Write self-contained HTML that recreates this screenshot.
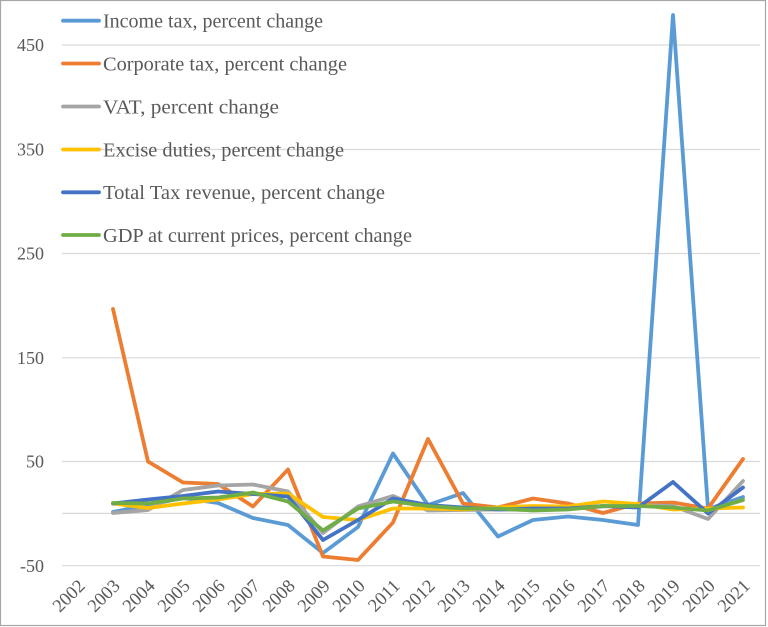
<!DOCTYPE html>
<html><head><meta charset="utf-8"><style>
html,body{margin:0;padding:0;background:#fff;}
svg{display:block;}
text{font-family:"Liberation Serif","Times New Roman",serif;fill:#595959;}
</style></head><body>
<svg width="768" height="627" viewBox="0 0 768 627" xmlns="http://www.w3.org/2000/svg">
<rect x="0" y="0" width="768" height="627" fill="#fff"/>
<rect x="0.5" y="0.5" width="765" height="625" fill="none" stroke="#A6A6A6" stroke-width="1.2"/>
<g stroke="#D9D9D9" stroke-width="1.2">
<line x1="62" y1="45" x2="760" y2="45"/>
<line x1="62" y1="149.5" x2="760" y2="149.5"/>
<line x1="62" y1="253.5" x2="760" y2="253.5"/>
<line x1="62" y1="357.8" x2="760" y2="357.8"/>
<line x1="62" y1="461.5" x2="760" y2="461.5"/>
<line x1="62" y1="513.4" x2="760" y2="513.4"/>
<line x1="62" y1="565.7" x2="760" y2="565.7"/>
</g>
<g font-size="18" text-anchor="end">
<text x="44" y="51">450</text>
<text x="44" y="155.5">350</text>
<text x="44" y="259.5">250</text>
<text x="44" y="364">150</text>
<text x="44" y="467.5">50</text>
<text x="44" y="572">-50</text>
</g>
<g font-size="18.5" text-anchor="end">
<text transform="translate(86,587) rotate(-45)">2002</text>
<text transform="translate(121,587) rotate(-45)">2003</text>
<text transform="translate(156,587) rotate(-45)">2004</text>
<text transform="translate(191,587) rotate(-45)">2005</text>
<text transform="translate(226,587) rotate(-45)">2006</text>
<text transform="translate(261,587) rotate(-45)">2007</text>
<text transform="translate(296,587) rotate(-45)">2008</text>
<text transform="translate(331,587) rotate(-45)">2009</text>
<text transform="translate(366,587) rotate(-45)">2010</text>
<text transform="translate(401,587) rotate(-45)">2011</text>
<text transform="translate(436,587) rotate(-45)">2012</text>
<text transform="translate(471,587) rotate(-45)">2013</text>
<text transform="translate(506,587) rotate(-45)">2014</text>
<text transform="translate(541,587) rotate(-45)">2015</text>
<text transform="translate(576,587) rotate(-45)">2016</text>
<text transform="translate(611,587) rotate(-45)">2017</text>
<text transform="translate(646,587) rotate(-45)">2018</text>
<text transform="translate(681,587) rotate(-45)">2019</text>
<text transform="translate(716,587) rotate(-45)">2020</text>
<text transform="translate(751,587) rotate(-45)">2021</text>
</g>
<g fill="none" stroke-width="3.8" stroke-linejoin="round" stroke-linecap="round">
<polyline stroke="#5B9BD5" points="113,512 148,505 183,498 218,503 253,518 288,525 323,553 358,527 393,453.5 428,505 463,493 498,536.5 533,520 568,516.5 603,520 638,525 673,15 708,509 743,497"/>
<polyline stroke="#ED7D31" points="113,309 148,461.5 183,482.5 218,484 253,506.5 288,469.5 323,556.5 358,560 393,522.5 428,439 463,503.5 498,507.5 533,498.5 568,503.5 603,513 638,503.5 673,502.5 708,508.5 743,459"/>
<polyline stroke="#A5A5A5" points="113,513 148,510 183,490 218,485.5 253,484.5 288,491.5 323,533 358,506.5 393,496 428,510.5 463,510 498,509.5 533,510 568,509 603,506.5 638,505 673,506 708,519 743,481"/>
<polyline stroke="#FFC000" points="113,503.5 148,508 183,503.5 218,499.5 253,494 288,493.5 323,517 358,520 393,508.5 428,508.5 463,509.5 498,507.5 533,506 568,506.5 603,501.5 638,504 673,509.5 708,508.5 743,507.5"/>
<polyline stroke="#4472C4" points="113,503.5 148,499.5 183,496 218,491.5 253,494 288,496.5 323,540 358,520 393,498.5 428,505 463,507.5 498,509.5 533,508.5 568,508.5 603,506 638,507.5 673,482 708,513.5 743,487.5"/>
<polyline stroke="#70AD47" points="113,503 148,503.5 183,498.5 218,497.5 253,492.5 288,501.5 323,530.5 358,508.5 393,501.5 428,506 463,508.5 498,508.5 533,510.5 568,509.5 603,506 638,506 673,507.5 708,510.5 743,500"/>
</g>
<g stroke-width="3.8" stroke-linecap="round">
<line x1="63" y1="20.7" x2="99" y2="20.7" stroke="#5B9BD5"/>
<line x1="63" y1="63.5" x2="99" y2="63.5" stroke="#ED7D31"/>
<line x1="63" y1="106.5" x2="99" y2="106.5" stroke="#A5A5A5"/>
<line x1="63" y1="149.5" x2="99" y2="149.5" stroke="#FFC000"/>
<line x1="63" y1="192.3" x2="99" y2="192.3" stroke="#4472C4"/>
<line x1="63" y1="235" x2="99" y2="235" stroke="#70AD47"/>
</g>
<g font-size="19.5">
<text x="103" y="27.5" textLength="220" lengthAdjust="spacingAndGlyphs">Income tax, percent change</text>
<text x="103" y="70.3" textLength="244" lengthAdjust="spacingAndGlyphs">Corporate tax,  percent change</text>
<text x="103" y="113.3" textLength="176" lengthAdjust="spacingAndGlyphs">VAT,  percent change</text>
<text x="103" y="156.3" textLength="241" lengthAdjust="spacingAndGlyphs">Excise duties,  percent change</text>
<text x="103" y="199.1" textLength="282" lengthAdjust="spacingAndGlyphs">Total Tax revenue,  percent change</text>
<text x="103" y="241.8" textLength="309" lengthAdjust="spacingAndGlyphs">GDP at current prices,  percent change</text>
</g>
</svg>
</body></html>
